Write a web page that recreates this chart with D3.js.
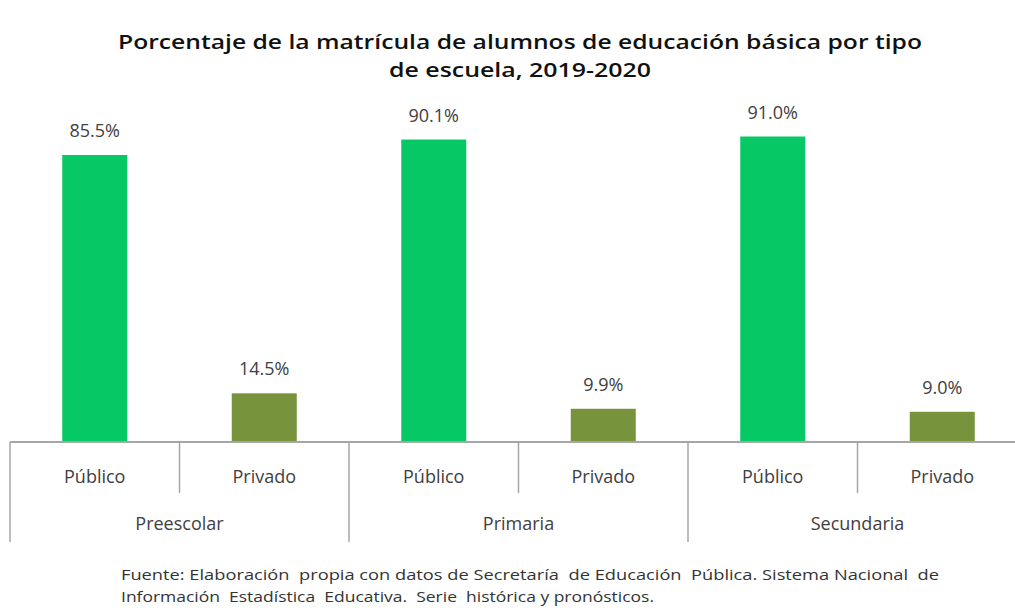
<!DOCTYPE html>
<html>
<head>
<meta charset="utf-8">
<script src="https://cdn.jsdelivr.net/npm/d3@7"></script>
<style>
  body { margin: 0; background: #fff; }
  text { font-family: "Open Sans", sans-serif; }
</style>
</head>
<body>
<div id="chart"></div>
<script>
var groups = ["Preescolar", "Primaria", "Secundaria"]
var types = ["Público", "Privado"]
var values = [85.5, 14.5, 90.1, 9.9, 91.0, 9.0]
var colors = {"Público": "#06c864", "Privado": "#77933c"}
var titleLines = ["Porcentaje de la matrícula de alumnos de educación básica por tipo",
                  "de escuela, 2019-2020"]
var titleWidths = [804, 262]
var sourceLines = ["Fuente: Elaboración  propia con datos de Secretaría  de Educación  Pública. Sistema Nacional  de",
                   "Información  Estadística  Educativa.  Serie  histórica y pronósticos."]
var sourceWidths = [818, 533]

var width = 1015, height = 611
var baseY = 442

var svg = d3.select("#chart").append("svg")
    .attr("width", width)
    .attr("height", height)

// one row per bar
var rows = []
groups.forEach(function(g, gi){
  types.forEach(function(t, ti){
    rows.push({key: g + "|" + t, group: g, type: t, value: values[gi*2 + ti]})
  })
})

var x = d3.scaleBand().domain(rows.map(function(d){return d.key}))
    .range([10, 1027]).paddingInner(0).paddingOuter(0)
var y = d3.scaleLinear().domain([0, 100]).range([baseY, baseY - 335.7])

var barW = 65

// title
svg.selectAll(".title").data(titleLines).enter().append("text")
    .attr("x", 520)
    .attr("y", function(d, i){return 49 + i*28})
    .attr("text-anchor", "middle")
    .attr("font-size", 20.5)
    .attr("font-weight", 600)
    .attr("fill", "#111")
    .attr("textLength", function(d, i){return titleWidths[i]})
    .attr("lengthAdjust", "spacingAndGlyphs")
    .text(function(d){return d})

// bars
svg.selectAll(".bar").data(rows).enter().append("rect")
    .attr("x", function(d){return x(d.key) + x.bandwidth()/2 - barW/2})
    .attr("y", function(d){return y(d.value)})
    .attr("width", barW)
    .attr("height", function(d){return baseY - y(d.value)})
    .attr("fill", function(d){return colors[d.type]})

// value labels
svg.selectAll(".val").data(rows).enter().append("text")
    .attr("x", function(d){return x(d.key) + x.bandwidth()/2})
    .attr("y", function(d){return y(d.value) - 18})
    .attr("text-anchor", "middle")
    .attr("font-size", 18)
    .attr("fill", "#404040")
    .text(function(d){return d.value.toFixed(1) + "%"})

// axis lines
var axisColor = "#a6a6a6"
svg.append("line")
    .attr("x1", 10).attr("x2", width)
    .attr("y1", baseY).attr("y2", baseY)
    .attr("stroke", axisColor).attr("stroke-width", 2)

// dividers: group boundaries go deeper than type boundaries
rows.forEach(function(d, i){
  var xx = x(d.key)
  svg.append("line")
      .attr("x1", xx).attr("x2", xx)
      .attr("y1", baseY)
      .attr("y2", i % 2 == 0 ? 542 : 493)
      .attr("stroke", axisColor).attr("stroke-width", 1.5)
})

// type labels
svg.selectAll(".cat").data(rows).enter().append("text")
    .attr("x", function(d){return x(d.key) + x.bandwidth()/2})
    .attr("y", 483)
    .attr("text-anchor", "middle")
    .attr("font-size", 18)
    .attr("fill", "#404040")
    .text(function(d){return d.type})

// group labels
svg.selectAll(".grp").data(groups).enter().append("text")
    .attr("x", function(d){return x(d + "|Público") + x.bandwidth()})
    .attr("y", 530)
    .attr("text-anchor", "middle")
    .attr("font-size", 18)
    .attr("fill", "#404040")
    .text(function(d){return d})

// source note
svg.selectAll(".src").data(sourceLines).enter().append("text")
    .attr("x", 121)
    .attr("y", function(d, i){return 580 + i*22})
    .attr("font-size", 14)
    .attr("fill", "#333")
    .attr("style", "white-space: pre")
    .attr("textLength", function(d, i){return sourceWidths[i]})
    .attr("lengthAdjust", "spacingAndGlyphs")
    .text(function(d){return d})
</script>
</body>
</html>
